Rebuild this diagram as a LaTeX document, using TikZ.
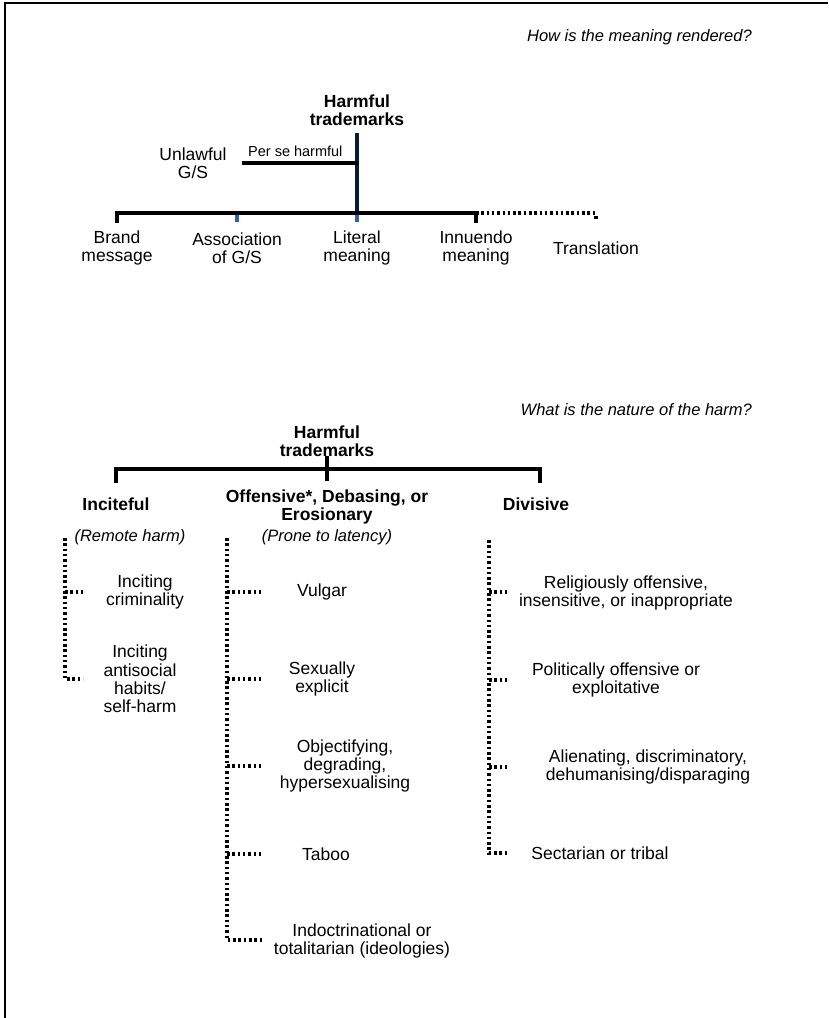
\documentclass[tikz,border=0pt]{standalone}
\usepackage{fontspec}
\setmainfont{Liberation Sans}
\definecolor{tickblue}{HTML}{2A66AA}
\definecolor{navy}{HTML}{0A1A33}
\begin{document}
\begin{tikzpicture}[x=1pt,y=-1pt,
  lbl/.style={font=\fontsize{17.5}{18.4}\selectfont, align=center, inner sep=0pt},
  hd/.style={font=\bfseries\fontsize{17.5}{18.4}\selectfont, align=center, inner sep=0pt},
  qn/.style={font=\itshape\fontsize{16.5}{18}\selectfont, inner sep=0pt},
  small/.style={font=\fontsize{14.5}{16}\selectfont, inner sep=0pt},
  bar/.style={line width=3.2pt, line cap=rect},
  dots/.style={line width=3.2pt, dash pattern=on 2.5pt off 2.8pt},
  frame/.style={line width=1.8pt}
]
\useasboundingbox (0,0) rectangle (828,1018);
\draw[frame] (5,1018) -- (5,3) -- (828,3);

% ---------- top tree ----------
\node[qn, anchor=east] (q1) at (752,37) {How is the meaning rendered?};
\node[hd] (htop) at (357,110) {Harmful\\trademarks};
\coordinate (vtop) at (357,135);
\coordinate (vbot) at (357,213);
\coordinate (pstart) at (244,163);
\coordinate (pend) at (357,163);
\coordinate (b1) at (117,213);
\coordinate (b2) at (237,213);
\coordinate (b4) at (476,213);
\coordinate (b5) at (596,213);
\draw[bar, color=navy] (vtop) -- (vbot);
\draw[bar] (pstart) -- (pend);
\node[small, anchor=south west] (perse) at (248,157) {Per se harmful};
\node[lbl] (unl) at (193,163) {Unlawful\\G/S};
\draw[bar] (b1) ++(0,8) -- (b1) -- (b4) -- ++(0,8);
\draw[line width=3.2pt, tickblue] (b2) ++(0,1.5) -- ++(0,7);
\draw[line width=3.2pt, tickblue] (vbot) ++(0,1.5) -- ++(0,7);
\draw[dots] (b4) -- (b5);
\draw[dots] (b5) ++(0,3) -- ++(0,3);
\node[lbl] (brand) at (117,248) {Brand\\message};
\node[lbl] (assoc) at (237,248) {Association\\of G/S};
\node[lbl] (lit) at (357,248) {Literal\\meaning};
\node[lbl] (inn) at (476,248) {Innuendo\\meaning};
\node[lbl] (trans) at (596,248) {Translation};

% ---------- bottom tree ----------
\node[qn, anchor=east] (q2) at (752,410) {What is the nature of the harm?};
\node[hd] (hbot) at (327,441) {Harmful\\trademarks};
\coordinate (c1) at (116,469);
\coordinate (c2) at (327,469);
\coordinate (c3) at (540,469);
\draw[bar] (c1) ++(0,12) -- (c1) -- (c3) -- ++(0,12);
\draw[line width=4pt] (c2) ++(0,-13) -- ++(0,25);

\node[hd] (incit) at (116,504) {Inciteful};
\node[hd] (offen) at (327,507) {Offensive*, Debasing, or\\Erosionary};
\node[hd] (divis) at (536,504) {Divisive};
\node[qn] (remote) at (130,537) {(Remote harm)};
\node[qn] (prone) at (327,537) {(Prone to latency)};

% left column
\coordinate (l0) at (65,538);
\coordinate (l1) at (83,592);
\coordinate (l2) at (83,679);
\draw[dots] (l0) |- (l2);
\draw[dots] (65,592) -- (l1);
\node[lbl] (crim) at (145,592) {Inciting\\criminality};
\node[lbl] (anti) at (140,679) {Inciting\\antisocial\\habits/\\self-harm};

% middle column
\coordinate (m0) at (227,538);
\coordinate (m1) at (262,592);
\coordinate (m2) at (262,679);
\coordinate (m3) at (262,766);
\coordinate (m4) at (262,854);
\coordinate (m5) at (262,940);
\draw[dots] (m0) |- (m5);
\draw[dots] (227,592) -- (m1);
\draw[dots] (227,679) -- (m2);
\draw[dots] (227,766) -- (m3);
\draw[dots] (227,854) -- (m4);
\node[lbl] (vulg) at (322,592) {Vulgar};
\node[lbl] (sex) at (322,679) {Sexually\\explicit};
\node[lbl] (obj) at (345,766) {Objectifying,\\degrading,\\hypersexualising};
\node[lbl] (taboo) at (326,854) {Taboo};
\node[lbl] (indoc) at (362,941) {Indoctrinational or\\totalitarian (ideologies)};

% right column
\coordinate (r0) at (489,540);
\coordinate (r1) at (507,592);
\coordinate (r2) at (507,680);
\coordinate (r3) at (507,767);
\coordinate (r4) at (507,853);
\draw[dots] (r0) |- (r4);
\draw[dots] (489,592) -- (r1);
\draw[dots] (489,680) -- (r2);
\draw[dots] (489,767) -- (r3);
\node[lbl] (relig) at (626,593) {Religiously offensive,\\insensitive, or inappropriate};
\node[lbl] (polit) at (616,680) {Politically offensive or\\exploitative};
\node[lbl] (alien) at (648,767) {Alienating, discriminatory,\\dehumanising/disparaging};
\node[lbl] (sect) at (600,853) {Sectarian or tribal};
\end{tikzpicture}
\end{document}
